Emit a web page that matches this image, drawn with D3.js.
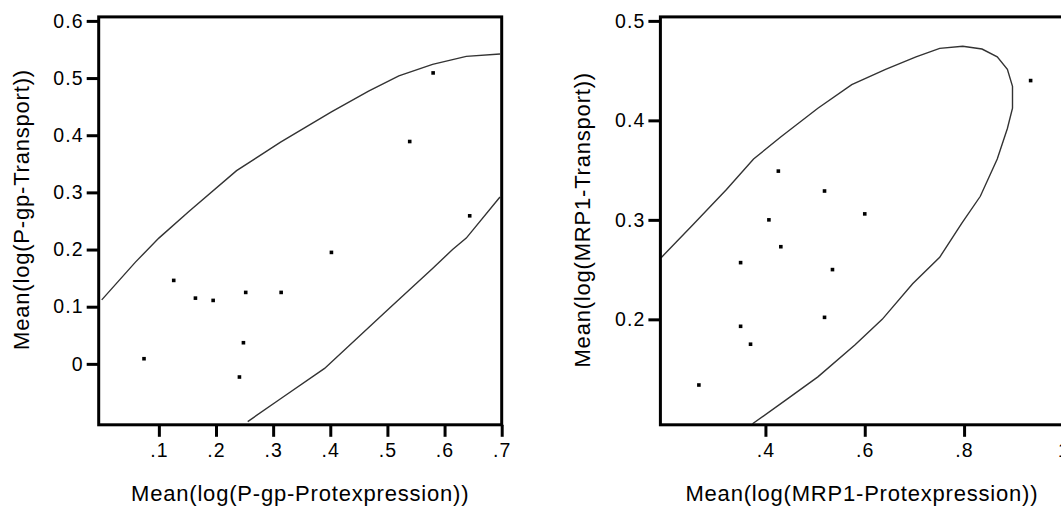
<!DOCTYPE html>
<html>
<head>
<meta charset="utf-8">
<script src="https://cdn.jsdelivr.net/npm/d3@7"></script>
<style>
  html, body { margin: 0; padding: 0; background: #fff; }
  svg { display: block; }
  .frame { fill: none; stroke: #000; stroke-width: 3; }
  .tick line { stroke: #000; stroke-width: 3; }
  .tick text { font-family: "Liberation Sans", Arial, sans-serif; font-size: 19.5px; letter-spacing: 1.1px; fill: #000; }
  .axisTitle { font-family: "Liberation Sans", Arial, sans-serif; font-size: 22px; letter-spacing: 0.8px; fill: #000; }
  .ellipse { fill: none; stroke: #333; stroke-width: 1.4; }
  .dot { fill: #000; }
</style>
</head>
<body>
<div id="chart"></div>
<script>
// P-gp panel
var pgpExpr      = [0.580, 0.539, 0.644, 0.402, 0.126, 0.164, 0.195, 0.252, 0.314, 0.248, 0.074, 0.241];
var pgpTransport = [0.509, 0.389, 0.259, 0.195, 0.146, 0.115, 0.111, 0.125, 0.125, 0.037, 0.009, -0.023];
var pgpUpperX = [0.000, 0.059, 0.100, 0.153, 0.236, 0.313, 0.402, 0.467, 0.520, 0.579, 0.638, 0.697];
var pgpUpperY = [0.112, 0.178, 0.220, 0.267, 0.338, 0.388, 0.441, 0.477, 0.504, 0.524, 0.538, 0.542];
var pgpLowerX = [0.2555, 0.313, 0.390, 0.502, 0.579, 0.614, 0.638, 0.697];
var pgpLowerY = [-0.101, -0.061, -0.008, 0.096, 0.167, 0.200, 0.220, 0.292];
var pgpXTicks = [0.1, 0.2, 0.3, 0.4, 0.5, 0.6, 0.7];
var pgpXLabels = [".1", ".2", ".3", ".4", ".5", ".6", ".7"];
var pgpYTicks = [0, 0.1, 0.2, 0.3, 0.4, 0.5, 0.6];
var pgpYLabels = ["0", "0.1", "0.2", "0.3", "0.4", "0.5", "0.6"];

// MRP1 panel
var mrpExpr      = [0.934, 0.426, 0.519, 0.600, 0.407, 0.431, 0.350, 0.535, 0.519, 0.350, 0.370, 0.266];
var mrpTransport = [0.440, 0.349, 0.329, 0.306, 0.300, 0.273, 0.257, 0.250, 0.202, 0.193, 0.175, 0.134];
var mrpEllipseX = [0.190, 0.2535, 0.3216, 0.3761, 0.4307, 0.5056, 0.5738, 0.6419, 0.7032, 0.7509, 0.7973, 0.8361,
                   0.8668, 0.8872, 0.8975, 0.8975, 0.8872, 0.8668, 0.8327, 0.7952, 0.7509, 0.6964, 0.6351,
                   0.5806, 0.5056, 0.4443, 0.3740];
var mrpEllipseY = [0.262, 0.2948, 0.3305, 0.3611, 0.3833, 0.4122, 0.4360, 0.4513, 0.4639, 0.4724, 0.4745, 0.4717,
                   0.4639, 0.4513, 0.4343, 0.4122, 0.3918, 0.3611, 0.3237, 0.2965, 0.2624, 0.2358, 0.2000,
                   0.1745, 0.1422, 0.1201, 0.0950];
var mrpXTicks = [0.4, 0.6, 0.8, 1.0];
var mrpXLabels = [".4", ".6", ".8", "1"];
var mrpYTicks = [0.2, 0.3, 0.4, 0.5];
var mrpYLabels = ["0.2", "0.3", "0.4", "0.5"];

var width = 1061, height = 506;

var svg = d3.select("#chart").append("svg")
  .attr("width", width)
  .attr("height", height);

var zip = function (xs, ys) {
  return xs.map(function (x, i) { return [x, ys[i]]; });
};

var drawPanel = function (opts) {
  var x = d3.scaleLinear().domain(opts.xDomain).range([opts.left, opts.right]);
  var y = d3.scaleLinear().domain(opts.yDomain).range([opts.bottom, opts.top]);

  var g = svg.append("g").attr("class", "panel");

  g.append("clipPath").attr("id", opts.id + "-clip")
    .append("rect")
    .attr("x", opts.left).attr("y", opts.top)
    .attr("width", opts.right - opts.left)
    .attr("height", opts.bottom - opts.top);

  var line = d3.line()
    .x(function (d) { return x(d[0]); })
    .y(function (d) { return y(d[1]); });

  var curves = g.append("g").attr("clip-path", "url(#" + opts.id + "-clip)");
  opts.curves.forEach(function (c) {
    curves.append("path")
      .datum(c)
      .attr("class", "ellipse")
      .attr("d", line);
  });

  // points
  var s = 3.6;
  g.append("g").selectAll("rect")
    .data(opts.points)
    .join("rect")
    .attr("class", "dot")
    .attr("x", function (d) { return x(d[0]) - s / 2; })
    .attr("y", function (d) { return y(d[1]) - s / 2; })
    .attr("width", s)
    .attr("height", s);

  // axes
  var xAxis = d3.axisBottom(x)
    .tickValues(opts.xTicks)
    .tickSize(12)
    .tickPadding(6)
    .tickFormat(function (d, i) { return opts.xLabels[i]; });
  var yAxis = d3.axisLeft(y)
    .tickValues(opts.yTicks)
    .tickSize(12)
    .tickPadding(3)
    .tickFormat(function (d, i) { return opts.yLabels[i]; });

  g.append("g")
    .attr("transform", "translate(0," + opts.bottom + ")")
    .call(xAxis)
    .call(function (a) { a.select(".domain").remove(); a.attr("font-size", null).attr("font-family", null); });

  g.append("g")
    .attr("transform", "translate(" + opts.left + ",0)")
    .call(yAxis)
    .call(function (a) { a.select(".domain").remove(); a.attr("font-size", null).attr("font-family", null); });

  g.append("rect")
    .attr("class", "frame")
    .attr("x", opts.left).attr("y", opts.top)
    .attr("width", opts.right - opts.left)
    .attr("height", opts.bottom - opts.top);

  // titles
  g.append("text")
    .attr("class", "axisTitle")
    .attr("x", (opts.left + opts.right) / 2)
    .attr("y", 501)
    .attr("text-anchor", "middle")
    .text(opts.xTitle);

  g.append("text")
    .attr("class", "axisTitle")
    .attr("transform", "translate(" + (opts.left - 70) + "," + opts.yTitleMid + ") rotate(-90)")
    .attr("text-anchor", "middle")
    .text(opts.yTitle);
};

drawPanel({
  id: "pgp",
  left: 98.7, right: 501.7, top: 16.9, bottom: 424.8,
  xDomain: [-0.0053, 0.7], yDomain: [-0.1066, 0.607],
  points: zip(pgpExpr, pgpTransport),
  curves: [zip(pgpUpperX, pgpUpperY), zip(pgpLowerX, pgpLowerY)],
  xTicks: pgpXTicks, xLabels: pgpXLabels,
  yTicks: pgpYTicks, yLabels: pgpYLabels,
  xTitle: "Mean(log(P-gp-Protexpression))",
  yTitle: "Mean(log(P-gp-Transport))",
  yTitleMid: 209.5
});

drawPanel({
  id: "mrp",
  left: 660.4, right: 1063.4, top: 16.9, bottom: 424.8,
  xDomain: [0.1885, 1.0], yDomain: [0.094, 0.504],
  points: zip(mrpExpr, mrpTransport),
  curves: [zip(mrpEllipseX, mrpEllipseY)],
  xTicks: mrpXTicks, xLabels: mrpXLabels,
  yTicks: mrpYTicks, yLabels: mrpYLabels,
  xTitle: "Mean(log(MRP1-Protexpression))",
  yTitle: "Mean(log(MRP1-Transport))",
  yTitleMid: 219.8
});
</script>
</body>
</html>
